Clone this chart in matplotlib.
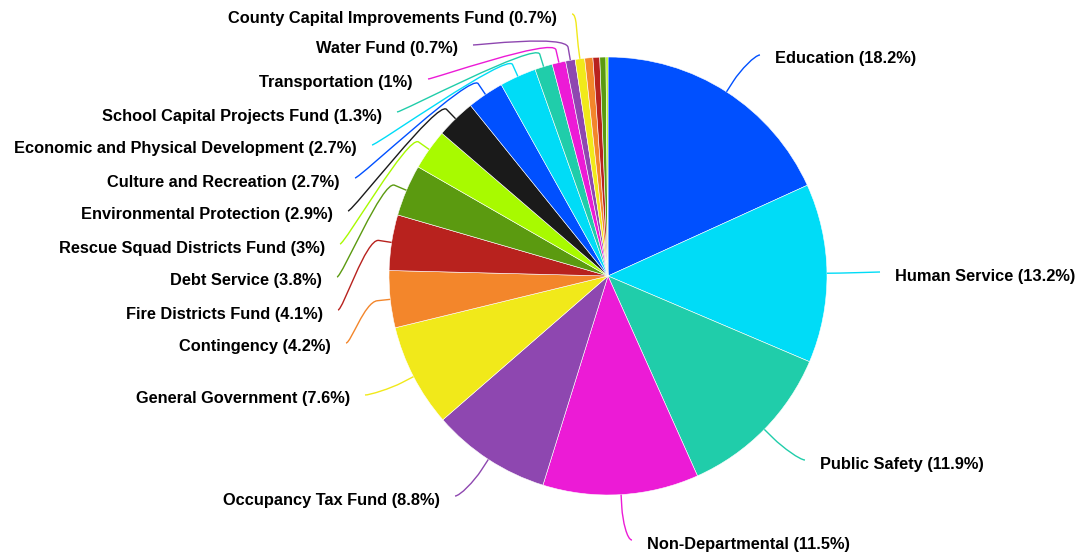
import matplotlib
matplotlib.use("Agg")
import matplotlib.pyplot as plt
from matplotlib.path import Path
from matplotlib.patches import PathPatch
import numpy as np

# budget shares (%), clockwise from 12 o'clock
names = ['Education', 'Human Service', 'Public Safety', 'Non-Departmental',
         'Occupancy Tax Fund', 'General Government', 'Contingency',
         'Fire Districts Fund', 'Debt Service', 'Rescue Squad Districts Fund',
         'Environmental Protection', 'Culture and Recreation',
         'Economic and Physical Development', 'School Capital Projects Fund',
         'Transportation', 'Water Fund', 'County Capital Improvements Fund']
values = [18.2, 13.2, 11.9, 11.5, 8.8, 7.6, 4.2, 4.1, 3.8, 3.0, 2.9, 2.7,
          2.7, 1.3, 1.0, 0.7, 0.7]
# small slices at the top that have no label
hidden_values = [0.6, 0.5, 0.45, 0.15]

palette = ['#0050ff', '#00dcf7', '#20cdaa', '#ec1bd6', '#8e47b0', '#f1e91a',
           '#f3862b', '#b8221e', '#5b9a10', '#a8fa00', '#1a1a1a']

# label anchors in pixels (x, y from top); side 'l' = text right-aligned
label_pos = [(775, 58, 'r'), (895, 275, 'r'), (820, 463, 'r'), (647, 543, 'r'),
             (440, 499, 'l'), (350, 398, 'l'), (331, 346, 'l'), (323, 313, 'l'),
             (322, 280, 'l'), (325, 247, 'l'), (333, 214, 'l'), (340, 181, 'l'),
             (357, 148, 'l'), (382, 115, 'l'), (413, 82, 'l'), (458, 48, 'l'),
             (557, 17, 'l')]

W, H = 1081, 557
cx, cy, R = 608, 276, 219

def P(x, y):
    return x, H - y

plt.rcParams['font.family'] = ['Liberation Sans', 'DejaVu Sans']
fig = plt.figure(figsize=(W / 100, H / 100), dpi=100)
ax = fig.add_axes([0, 0, 1, 1])

all_vals = values + hidden_values
cols = [palette[i % len(palette)] for i in range(len(all_vals))]
wedges, _ = ax.pie(all_vals, colors=cols, startangle=90, counterclock=False,
                   center=P(cx, cy), radius=R,
                   wedgeprops=dict(edgecolor='white', linewidth=0.4))

ax.set_xlim(0, W)
ax.set_ylim(0, H)
ax.set_aspect('equal')
ax.axis('off')

c = np.array(P(cx, cy))
for i, name in enumerate(names):
    w = wedges[i]
    a = np.deg2rad((w.theta1 + w.theta2) / 2)
    d = np.array([np.cos(a), np.sin(a)])
    E = c + R * d
    B = c + (R + 13) * d
    tx, ty, side = label_pos[i]
    if side == 'l':
        L = np.array(P(tx + 15, ty - 3))
        c1 = L + [5, 0]
    else:
        L = np.array(P(tx - 15, ty - 3))
        c1 = L - [5, 0]
    c2 = 2 * B - E
    verts = [L, c1, c2, B, E]
    codes = [Path.MOVETO, Path.CURVE4, Path.CURVE4, Path.CURVE4, Path.LINETO]
    ax.add_patch(PathPatch(Path(verts, codes), fc='none', ec=cols[i], lw=1.0))
    txt = f"{name} ({values[i]:g}%)"
    ax.text(*P(tx, ty + 1), txt, ha='right' if side == 'l' else 'left',
            va='center', fontsize=11.8, fontweight='bold', color='black')

fig.savefig('out.png', dpi=100)
